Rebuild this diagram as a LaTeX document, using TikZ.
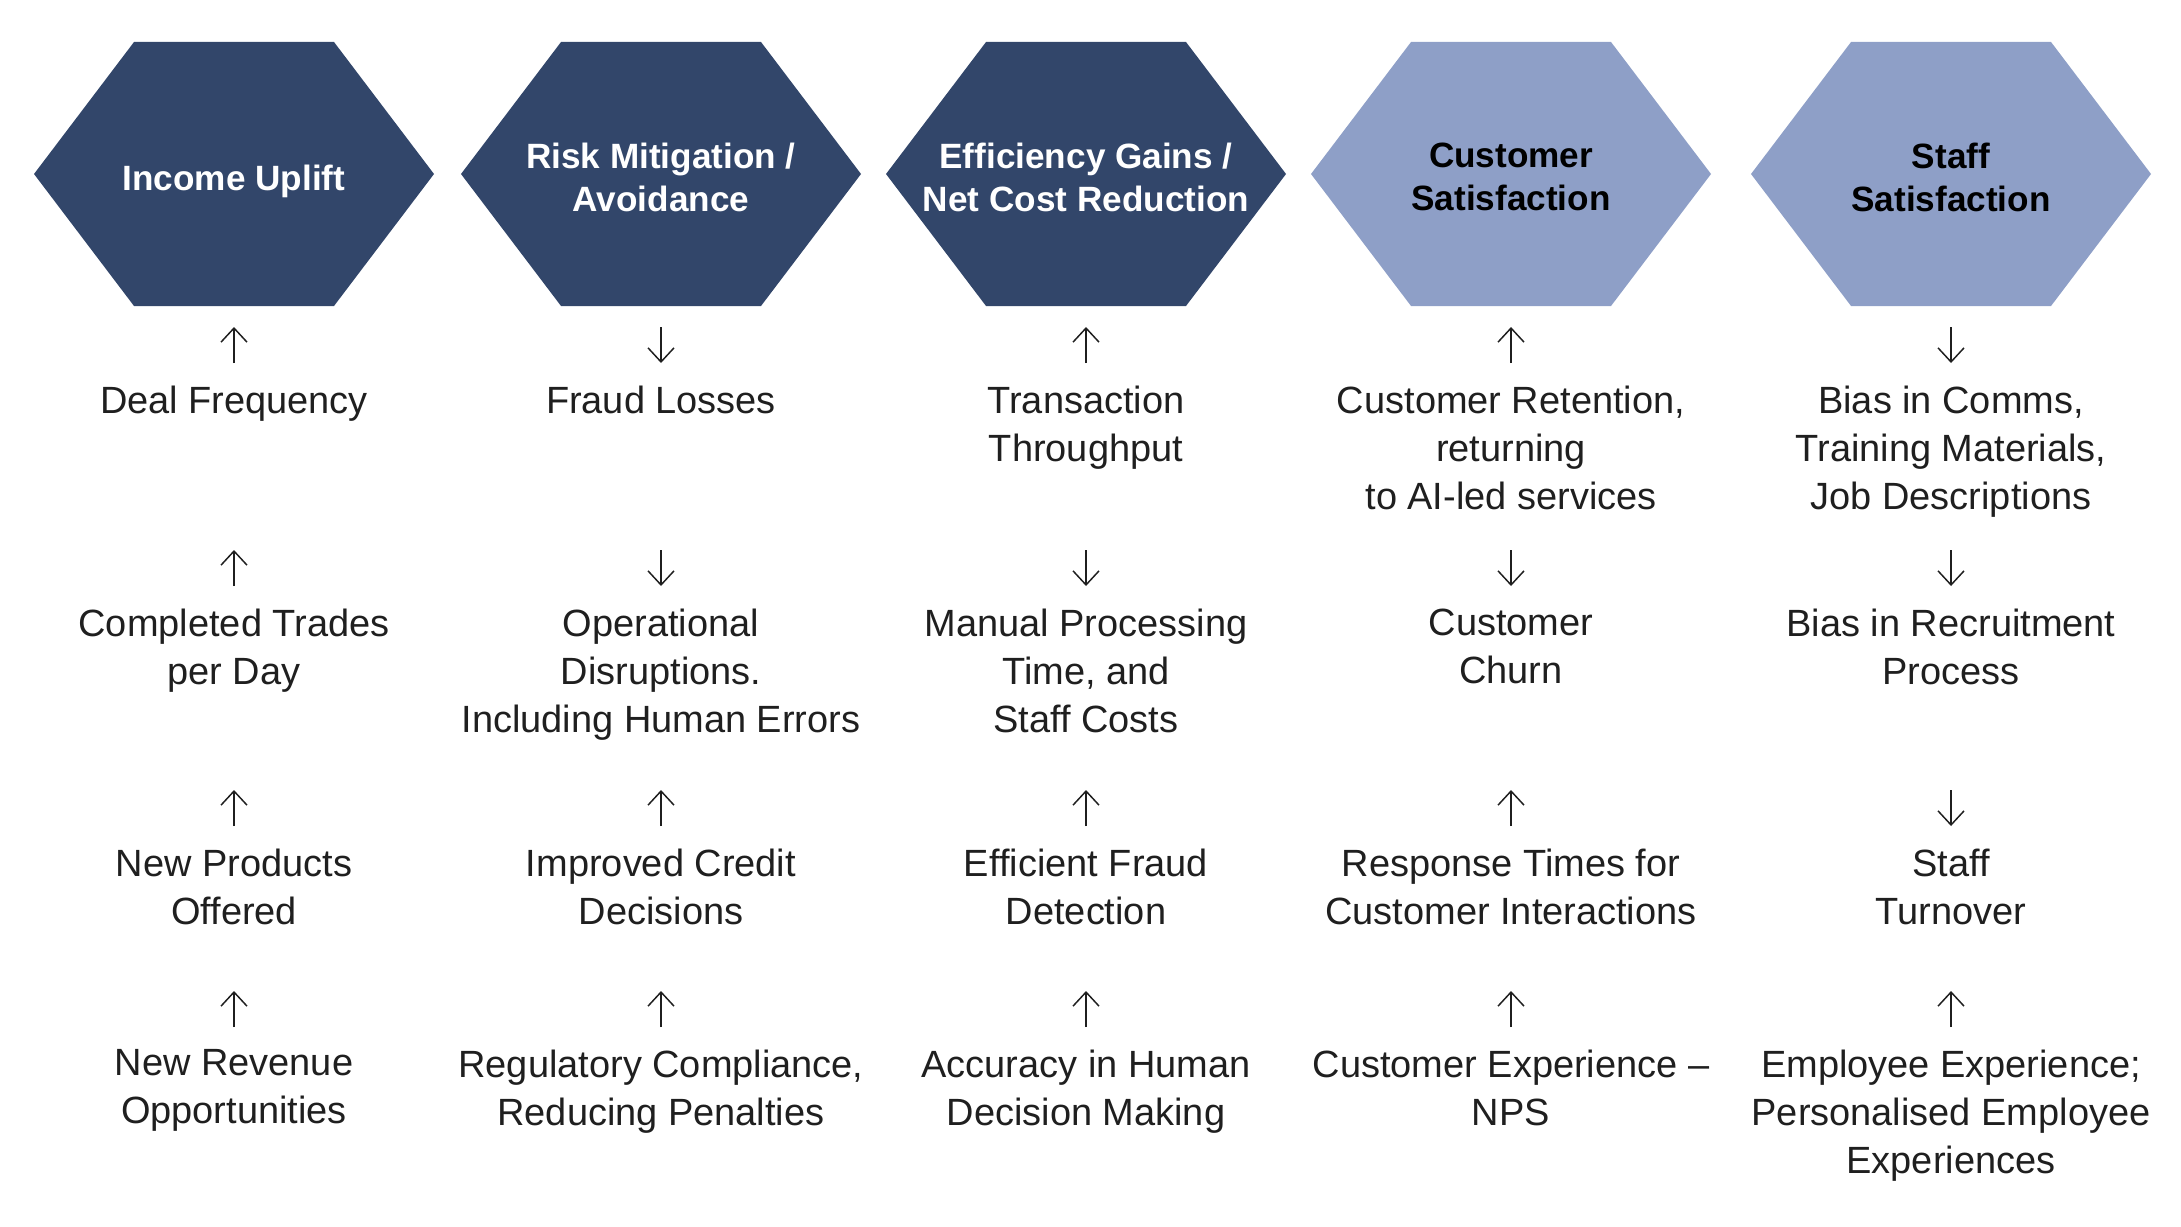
\documentclass[tikz,border=0pt]{standalone}
\usepackage{fontspec}
\setmainfont{Liberation Sans}
\usetikzlibrary{arrows.meta}
\definecolor{navy}{HTML}{32466A}
\definecolor{lavender}{HTML}{8E9FC7}
\begin{document}
\begin{tikzpicture}[x=0.1mm, y=-0.1mm,
	hextext/.style={anchor=north, inner sep=0pt, align=center, font=\fontsize{10pt}{12.2pt}\selectfont\bfseries},
	item/.style={anchor=north, inner sep=0pt, align=center, text=black!88, font=\fontsize{10.8pt}{13.66pt}\selectfont},
	arr/.style={inner sep=0pt, outer sep=0pt, minimum width=0pt, minimum height=3.6mm},
	trend/.style={-{Straight Barb[length=4pt,width=7.4pt]}, line width=0.42pt, black!88}]
			\useasboundingbox (0,0) rectangle (2181,1226);
			
			\fill[navy] (34,174) -- (134,42) -- (334,42) -- (434,174) -- (334,306) -- (134,306) -- cycle;
			\fill[navy] (461,174) -- (561,42) -- (761,42) -- (861,174) -- (761,306) -- (561,306) -- cycle;
			\fill[navy] (886,174) -- (986,42) -- (1186,42) -- (1286,174) -- (1186,306) -- (986,306) -- cycle;
			\fill[lavender] (1311,174) -- (1411,42) -- (1611,42) -- (1711,174) -- (1611,306) -- (1411,306) -- cycle;
			\fill[lavender] (1751,174) -- (1851,42) -- (2051,42) -- (2151,174) -- (2051,306) -- (1851,306) -- cycle;
			
			\node[hextext, white] (income) at (234,164) {Income Uplift};
			\node[hextext, white] (risk) at (661,142) {Risk Mitigation /\\Avoidance};
			\node[hextext, white] (efficiency) at (1086,142) {Efficiency Gains /\\Net Cost Reduction};
			\node[hextext] (custsat) at (1511,142) {Customer\\Satisfaction};
			\node[hextext] (staffsat) at (1951,142) {Staff\\Satisfaction};
			
			\node[arr] (a-deal) at (234,345) {};
			\node[arr] (a-fraud) at (661,345) {};
			\node[arr] (a-throughput) at (1086,345) {};
			\node[arr] (a-retention) at (1511,345) {};
			\node[arr] (a-comms) at (1951,345) {};
			\draw[trend] (a-deal.south) -- (a-deal.north);
			\draw[trend] (a-fraud.north) -- (a-fraud.south);
			\draw[trend] (a-throughput.south) -- (a-throughput.north);
			\draw[trend] (a-retention.south) -- (a-retention.north);
			\draw[trend] (a-comms.north) -- (a-comms.south);
			
			\node[item] (deal) at (234,385) {Deal Frequency};
			\node[item] (fraud) at (661,385) {Fraud Losses};
			\node[item] (throughput) at (1086,385) {Transaction\\Throughput};
			\node[item] (retention) at (1511,385) {Customer Retention,\\returning\\to AI-led services};
			\node[item] (comms) at (1951,385) {Bias in Comms,\\Training Materials,\\Job Descriptions};
			
			\node[arr] (a-trades) at (234,568) {};
			\node[arr] (a-disruptions) at (661,568) {};
			\node[arr] (a-manual) at (1086,568) {};
			\node[arr] (a-churn) at (1511,568) {};
			\node[arr] (a-recruitment) at (1951,568) {};
			\draw[trend] (a-trades.south) -- (a-trades.north);
			\draw[trend] (a-disruptions.north) -- (a-disruptions.south);
			\draw[trend] (a-manual.north) -- (a-manual.south);
			\draw[trend] (a-churn.north) -- (a-churn.south);
			\draw[trend] (a-recruitment.north) -- (a-recruitment.south);
			
			\node[item] (trades) at (234,608) {Completed Trades\\per Day};
			\node[item] (disruptions) at (661,608) {Operational\\Disruptions.\\Including Human Errors};
			\node[item] (manual) at (1086,608) {Manual Processing\\Time, and\\Staff Costs};
			\node[item] (churn) at (1511,608) {Customer\\Churn};
			\node[item] (recruitment) at (1951,608) {Bias in Recruitment\\Process};
			
			\node[arr] (a-products) at (234,808) {};
			\node[arr] (a-credit) at (661,808) {};
			\node[arr] (a-detection) at (1086,808) {};
			\node[arr] (a-response) at (1511,808) {};
			\node[arr] (a-turnover) at (1951,808) {};
			\draw[trend] (a-products.south) -- (a-products.north);
			\draw[trend] (a-credit.south) -- (a-credit.north);
			\draw[trend] (a-detection.south) -- (a-detection.north);
			\draw[trend] (a-response.south) -- (a-response.north);
			\draw[trend] (a-turnover.north) -- (a-turnover.south);
			
			\node[item] (products) at (234,848) {New Products\\Offered};
			\node[item] (credit) at (661,848) {Improved Credit\\Decisions};
			\node[item] (detection) at (1086,848) {Efficient Fraud\\Detection};
			\node[item] (response) at (1511,848) {Response Times for\\Customer Interactions};
			\node[item] (turnover) at (1951,848) {Staff\\Turnover};
			
			\node[arr] (a-revenue) at (234,1009) {};
			\node[arr] (a-compliance) at (661,1009) {};
			\node[arr] (a-accuracy) at (1086,1009) {};
			\node[arr] (a-nps) at (1511,1009) {};
			\node[arr] (a-employee) at (1951,1009) {};
			\draw[trend] (a-revenue.south) -- (a-revenue.north);
			\draw[trend] (a-compliance.south) -- (a-compliance.north);
			\draw[trend] (a-accuracy.south) -- (a-accuracy.north);
			\draw[trend] (a-nps.south) -- (a-nps.north);
			\draw[trend] (a-employee.south) -- (a-employee.north);
			
			\node[item] (revenue) at (234,1049) {New Revenue\\Opportunities};
			\node[item] (compliance) at (661,1049) {Regulatory Compliance,\\Reducing Penalties};
			\node[item] (accuracy) at (1086,1049) {Accuracy in Human\\Decision Making};
			\node[item] (nps) at (1511,1049) {Customer Experience –\\NPS};
			\node[item] (employee) at (1951,1049) {Employee Experience;\\Personalised Employee\\Experiences};
		\end{tikzpicture}
\end{document}
